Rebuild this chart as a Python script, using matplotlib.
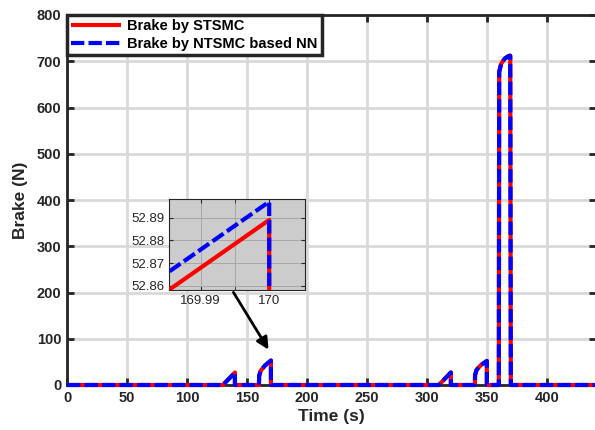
import numpy as np
import matplotlib
matplotlib.use("Agg")
import matplotlib.pyplot as plt

# brake force (N) vs time (s), breakpoints
t = [0, 130, 140, 140, 160, 160.2, 161.5, 165, 169.98, 170, 170,
     310, 320, 320, 340, 340.2, 341.5, 345, 350, 350,
     360, 360.3, 362, 365, 368, 369.5, 370, 440]
brake_stsmc = [0, 0, 27, 0, 0, 20, 31, 42, 52.847, 52.889, 0,
               0, 27, 0, 0, 22, 33, 43, 52, 0,
               0, 677, 695, 706, 711, 712, 0, 0]
brake_nn = [0, 0, 27, 0, 0, 20, 31, 42, 52.855, 52.897, 0,
            0, 27, 0, 0, 22, 33, 43, 52, 0,
            0, 677, 695, 706, 711, 712, 0, 0]

x_ticks = [0, 50, 100, 150, 200, 250, 300, 350, 400]
y_ticks = [0, 100, 200, 300, 400, 500, 600, 700, 800]
inset_xticks = [169.99, 170]
inset_yticks = [52.86, 52.87, 52.88, 52.89]

plt.rcParams['font.family'] = ['Liberation Sans', 'DejaVu Sans']
dark = '#262626'

fig = plt.figure(figsize=(5.95, 4.3), dpi=100)
ax = fig.add_axes([67/595, 1-385/430, 529/595, 370/430])

ax.plot(t, brake_stsmc, color='red', lw=3, solid_capstyle='butt', label='Brake by STSMC',
        zorder=3, clip_on=False)
ax.plot(t, brake_nn, color='blue', lw=3, dashes=(3.2, 1), label='Brake by NTSMC based NN',
        zorder=4, clip_on=False)

ax.set_xlim(0, 441)
ax.set_ylim(0, 800)
ax.set_xticks(x_ticks)
ax.set_yticks(y_ticks)
ax.grid(True, color='#d9d9d9', lw=2)
ax.set_axisbelow(True)
ax.tick_params(direction='in', top=True, right=True, length=5, width=2, color=dark,
               labelsize=10.5, labelcolor=dark, pad=4)
for lab in ax.get_xticklabels() + ax.get_yticklabels():
    lab.set_fontweight('bold')
for s in ax.spines.values():
    s.set_linewidth(2)
    s.set_color(dark)
ax.set_xlabel('Time (s)', fontsize=12.5, fontweight='bold', color=dark, labelpad=3)
ax.set_ylabel('Brake (N)', fontsize=12.5, fontweight='bold', color=dark, labelpad=6)

leg = ax.legend(loc='upper left', borderaxespad=0, handlelength=3.4, fancybox=False,
                prop={'weight': 'bold', 'size': 10.5}, borderpad=0.3, labelspacing=0.25,
                handletextpad=0.4, framealpha=1)
leg.get_frame().set_edgecolor(dark)
leg.get_frame().set_linewidth(2.5)
leg.set_zorder(10)

# zoomed inset
ins = fig.add_axes([169/595, 1-290/430, 136/595, 91/430])
ins.set_facecolor('#cccccc')
ins.plot(t, brake_stsmc, color='red', lw=3, solid_capstyle='butt', zorder=3)
ins.plot(t, brake_nn, color='blue', lw=3, dashes=(3.2, 1), zorder=4)
ins.set_xlim(169.98536, 170.00523)
ins.set_ylim(52.8582, 52.8982)
ins.set_xticks(inset_xticks)
ins.set_xticks([169.995], minor=True)
ins.set_yticks(inset_yticks)
ins.set_xticklabels(['169.99', '170'])
ins.set_yticklabels(['52.86', '52.87', '52.88', '52.89'])
ins.grid(True, which='both', color='#a6a6a6', lw=0.7)
ins.tick_params(which='both', direction='in', top=True, right=True, length=3, color=dark,
                labelsize=9.5, labelcolor=dark)
for s in ins.spines.values():
    s.set_linewidth(0.8)
    s.set_color(dark)

fig.add_artist(matplotlib.patches.FancyArrowPatch(
    (232/595, 1-290/430), (270/595, 1-352/430), transform=fig.transFigure,
    arrowstyle='-|>', mutation_scale=18, color='black', lw=2))

fig.savefig('out.png', dpi=100)
